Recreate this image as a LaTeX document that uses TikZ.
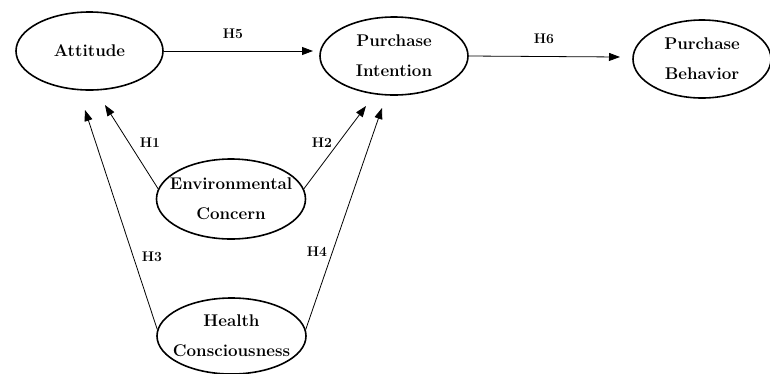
\documentclass[tikz,border=0pt]{standalone}
\usetikzlibrary{shapes.geometric,arrows.meta}
\tikzset{
  construct/.style={ellipse, draw, line width=1.6bp, inner sep=0pt},
  ctext/.style={align=center, inner sep=0pt, font=\fontsize{17}{30}\selectfont\bfseries},
  hyp/.style={font=\fontsize{14}{15}\selectfont\bfseries, inner sep=0pt},
  link/.style={line width=0.8bp, -{Triangle[length=11bp,width=8bp]}}
}
\begin{document}
\begin{tikzpicture}[x=1bp,y=-1bp]
\useasboundingbox (0,0) rectangle (770,373);
\node[construct, minimum width=147bp, minimum height=78bp] (att) at (89.5,51) {};
\node[construct, minimum width=148bp, minimum height=78bp] (pi) at (394,56) {};
\node[construct, minimum width=138bp, minimum height=78bp] (pb) at (702,59) {};
\node[construct, minimum width=149bp, minimum height=80bp] (ec) at (231,199) {};
\node[construct, minimum width=149bp, minimum height=76bp] (hc) at (231.5,336) {};

\node[ctext] (attT) at (att.center) {Attitude};
\node[ctext] (piT) at (pi.center) {Purchase\\Intention};
\node[ctext] (pbT) at (pb.center) {Purchase\\Behavior};
\node[ctext] (ecT) at (ec.center) {Environmental\\Concern};
\node[ctext] (hcT) at (hc.center) {Health\\Consciousness};

\coordinate (t5) at (313,51);
\coordinate (t6) at (620,57);
\coordinate (t1) at (105,105);
\coordinate (t3) at (85,110);
\coordinate (t2) at (366,106);
\coordinate (t4) at (382,108);

\draw[link] (att.east) -- (t5);
\draw[link] (pi.east) -- (t6);
\draw[link] (ec.172) -- (t1);
\draw[link] (ec.8) -- (t2);
\draw[link] (hc.175) -- (t3);
\draw[link] (hc.5) -- (t4);

\node[hyp] (h5) at (233,34) {H5};
\node[hyp] (h6) at (544,39) {H6};
\node[hyp] (h1) at (150,143) {H1};
\node[hyp] (h2) at (322,143) {H2};
\node[hyp] (h3) at (152,257) {H3};
\node[hyp] (h4) at (317,252) {H4};
\end{tikzpicture}
\end{document}
